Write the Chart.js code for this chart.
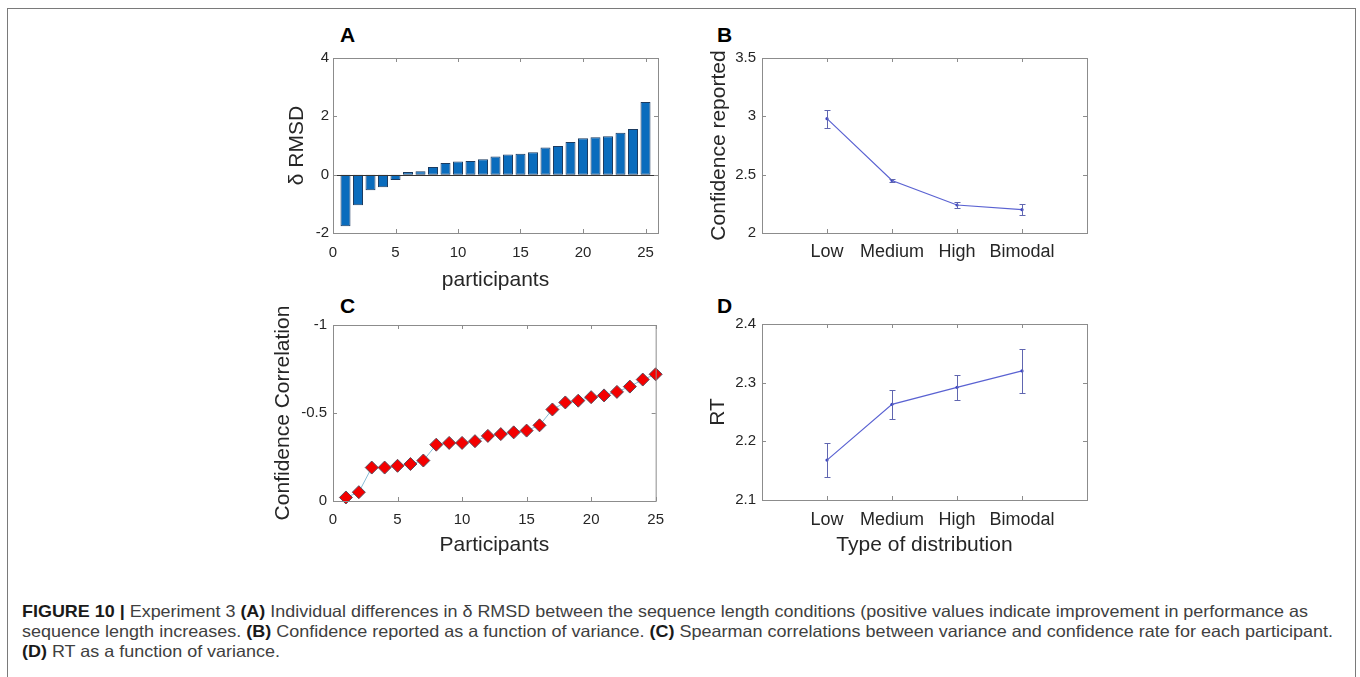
<!DOCTYPE html>
<html>
<head>
<meta charset="utf-8">
<script src="https://cdn.jsdelivr.net/npm/chart.js@4.4.1/dist/chart.umd.min.js"></script>
<style>
  body { margin: 0; background: #fff; width: 1360px; height: 677px; overflow: hidden; position: relative; }
  #frame { position: absolute; left: 7px; top: 8px; width: 1347px; height: 700px; border: 1px solid #7a7a7a; }
  canvas { position: absolute; }
  .tag { position: absolute; font: bold 21px 'Liberation Sans', Arial, sans-serif; line-height: 21px; color: #000; }
  .cap { position: absolute; left: 22px; white-space: nowrap; font-family: 'Liberation Sans Narrow', 'Liberation Sans', sans-serif;
         font-size: 16.5px; line-height: 16px; color: #404040; transform-origin: 0 0; }
  .cap b { color: #1a1a1a; }
</style>
</head>
<body>
<div id="frame"></div>

<div class="tag" style="left:340px; top:24px">A</div>
<div class="tag" style="left:717px; top:24px">B</div>
<div class="tag" style="left:340px; top:295px">C</div>
<div class="tag" style="left:717px; top:295px">D</div>

<canvas id="chartA" width="403" height="262" style="left:270px; top:40px"></canvas>
<canvas id="chartB" width="410" height="262" style="left:695px; top:40px"></canvas>
<canvas id="chartC" width="414" height="262" style="left:260px; top:300px"></canvas>
<canvas id="chartD" width="410" height="262" style="left:695px; top:300px"></canvas>

<div class="cap" id="cap1" style="top:603px"><b>FIGURE 10 |</b> Experiment 3 <b>(A)</b> Individual differences in δ RMSD between the sequence length conditions (positive values indicate improvement in performance as</div>
<div class="cap" id="cap2" style="top:623px">sequence length increases. <b>(B)</b> Confidence reported as a function of variance. <b>(C)</b> Spearman correlations between variance and confidence rate for each participant.</div>
<div class="cap" id="cap3" style="top:643px"><b>(D)</b> RT as a function of variance.</div>

<script>
// participants, sorted by effect size
const participants = [1, 2, 3, 4, 5, 6, 7, 8, 9, 10, 11, 12, 13, 14, 15, 16, 17, 18, 19, 20, 21, 22, 23, 24, 25];
const deltaRmsd = [-1.77, -1.05, -0.53, -0.43, -0.18, 0.09, 0.12, 0.26, 0.40, 0.45, 0.47, 0.53, 0.62,
                   0.69, 0.72, 0.77, 0.93, 0.98, 1.12, 1.25, 1.28, 1.32, 1.44, 1.57, 2.49];
const confCorr = [-0.02, -0.05, -0.19, -0.19, -0.20, -0.21, -0.23, -0.32, -0.33, -0.33, -0.34, -0.37, -0.38,
                  -0.39, -0.40, -0.43, -0.52, -0.56, -0.57, -0.59, -0.60, -0.62, -0.65, -0.69, -0.72];

// variance conditions
const distTypes = ['Low', 'Medium', 'High', 'Bimodal'];
const distPos = [1, 2, 3, 4];
const confMean = [2.98, 2.45, 2.24, 2.20];
const confErr = [0.077, 0.016, 0.027, 0.05];
const rtMean = [2.168, 2.263, 2.292, 2.320];
const rtErr = [0.029, 0.025, 0.021, 0.037];

// tick values
const participantTicks = [0, 5, 10, 15, 20, 25];
const rmsdTicks = [-2, 0, 2, 4];
const confTicks = [2, 2.5, 3, 3.5];
const corrTicks = [-1, -0.5, 0];
const rtTicks = [2.1, 2.2, 2.3, 2.4];

Chart.defaults.font.family = "'Liberation Sans', Arial, sans-serif";
Chart.defaults.color = '#262626';
Chart.defaults.animation = false;
Chart.defaults.plugins.legend.display = false;
Chart.defaults.plugins.tooltip.enabled = false;

const numFont = { size: 15 };
const catFont = { size: 18 };
const titleFont = { size: 21, lineHeight: 1.2 };

const setTicks = values => s => { s.ticks = values.map(v => ({ value: v })); };
const fixWidth = w => s => { s.width = w; };
const fixHeight = h => s => { s.height = h; };

// matlab style box: frame, inward ticks, optional zero line, error bars
function boxAxes(zeroLine) {
  return {
    id: 'boxAxes',
    afterDatasetsDraw(chart) {
      const { ctx, chartArea: a, scales: { x, y } } = chart;
      ctx.save();
      chart.data.datasets.forEach((ds, i) => {
        if (!ds.errors) return;
        const pts = chart.getDatasetMeta(i).data;
        ctx.strokeStyle = ds.errorColor;
        ctx.lineWidth = 1;
        ds.data.forEach((d, j) => {
          const px = Math.round(pts[j].x) + 0.5;
          const hi = Math.round(y.getPixelForValue(d.y + ds.errors[j])) + 0.5;
          const lo = Math.round(y.getPixelForValue(d.y - ds.errors[j])) + 0.5;
          ctx.beginPath();
          ctx.moveTo(px, hi); ctx.lineTo(px, lo);
          ctx.moveTo(px - 3, hi); ctx.lineTo(px + 3, hi);
          ctx.moveTo(px - 3, lo); ctx.lineTo(px + 3, lo);
          ctx.stroke();
        });
      });
      if (zeroLine) {
        const y0 = Math.round(y.getPixelForValue(0)) + 0.5;
        ctx.strokeStyle = '#333';
        ctx.beginPath();
        ctx.moveTo(a.left, y0); ctx.lineTo(a.right, y0);
        ctx.stroke();
      }
      ctx.strokeStyle = '#8c8c8c';
      ctx.lineWidth = 1;
      ctx.strokeRect(a.left + 0.5, a.top + 0.5, a.width, a.height);
      ctx.beginPath();
      x.ticks.forEach(t => {
        const px = Math.round(x.getPixelForValue(t.value)) + 0.5;
        ctx.moveTo(px, a.bottom); ctx.lineTo(px, a.bottom - 4);
        ctx.moveTo(px, a.top); ctx.lineTo(px, a.top + 4);
      });
      y.ticks.forEach(t => {
        const py = Math.round(y.getPixelForValue(t.value)) + 0.5;
        ctx.moveTo(a.left, py); ctx.lineTo(a.left + 4, py);
        ctx.moveTo(a.right, py); ctx.lineTo(a.right - 4, py);
      });
      ctx.stroke();
      ctx.restore();
    }
  };
}

const noGrid = { display: false, drawTicks: false };

function numAxis(min, max, ticks, size, sizeFn, tickPad, title, titlePad, reverse) {
  return {
    type: 'linear', min, max, reverse: !!reverse, offset: false,
    grid: noGrid, border: { display: false },
    afterBuildTicks: setTicks(ticks),
    afterFit: sizeFn(size),
    ticks: { font: numFont, padding: tickPad, callback: v => String(v) },
    title: title ? { display: true, text: title, font: titleFont, padding: titlePad } : { display: false }
  };
}

function catAxis(size, tickPad, title, titlePad) {
  return {
    type: 'linear', min: 0, max: 5, offset: false,
    grid: noGrid, border: { display: false },
    afterBuildTicks: setTicks(distPos),
    afterFit: fixHeight(size),
    ticks: { font: catFont, padding: tickPad, callback: v => distTypes[distPos.indexOf(v)] },
    title: title ? { display: true, text: title, font: titleFont, padding: titlePad } : { display: false }
  };
}

// A: delta RMSD per participant
new Chart(document.getElementById('chartA'), {
  type: 'bar',
  data: {
    datasets: [{
      data: participants.map((p, i) => ({ x: p, y: deltaRmsd[i] })),
      backgroundColor: '#0a6cbd',
      borderColor: '#1c3b60',
      borderWidth: 1,
      borderSkipped: false,
      barPercentage: 0.8,
      categoryPercentage: 1
    }]
  },
  options: {
    responsive: false,
    layout: { padding: { top: 18, right: 15 } },
    scales: {
      x: numAxis(0, 26, participantTicks, 69, fixHeight, 11, 'participants', { bottom: 9 }),
      y: numAxis(-2, 4, rmsdTicks, 63, fixWidth, 4, 'δ RMSD', { top: 15 })
    }
  },
  plugins: [boxAxes(true)]
});

// B: confidence by distribution type
new Chart(document.getElementById('chartB'), {
  type: 'line',
  data: {
    datasets: [{
      data: distPos.map((p, i) => ({ x: p, y: confMean[i] })),
      errors: confErr,
      errorColor: '#6066b0',
      borderColor: '#5a62d2',
      borderWidth: 1.2,
      pointRadius: 1.6,
      pointBackgroundColor: '#3a44c8',
      pointBorderWidth: 0
    }]
  },
  options: {
    responsive: false,
    layout: { padding: { top: 18, right: 18 } },
    scales: {
      x: catAxis(69, 8),
      y: numAxis(2, 3.5, confTicks, 67, fixWidth, 6, 'Confidence reported', { top: 12 })
    }
  },
  plugins: [boxAxes(false)]
});

// C: spearman correlation per participant
new Chart(document.getElementById('chartC'), {
  type: 'line',
  data: {
    datasets: [{
      data: participants.map((p, i) => ({ x: p, y: confCorr[i] })),
      borderColor: '#86bcd6',
      borderWidth: 1,
      pointStyle: 'rectRot',
      pointRadius: 6.5,
      pointBackgroundColor: '#f40000',
      pointBorderColor: '#5a4a5a',
      pointBorderWidth: 1,
      clip: false
    }]
  },
  options: {
    responsive: false,
    layout: { padding: { top: 25, right: 15 } },
    scales: {
      x: numAxis(0, 25, participantTicks, 61, fixHeight, 10, 'Participants', { bottom: 4 }),
      y: numAxis(-1, 0, corrTicks, 73, fixWidth, 6, 'Confidence Correlation', { top: 11 }, true)
    }
  },
  plugins: [boxAxes(false)]
});

// D: reaction time by distribution type
new Chart(document.getElementById('chartD'), {
  type: 'line',
  data: {
    datasets: [{
      data: distPos.map((p, i) => ({ x: p, y: rtMean[i] })),
      errors: rtErr,
      errorColor: '#6066b0',
      borderColor: '#5a62d2',
      borderWidth: 1.2,
      pointRadius: 1.6,
      pointBackgroundColor: '#3a44c8',
      pointBorderWidth: 0
    }]
  },
  options: {
    responsive: false,
    layout: { padding: { top: 24, right: 18 } },
    scales: {
      x: catAxis(62, 9, 'Type of distribution', { bottom: 4 }),
      y: numAxis(2.1, 2.4, rtTicks, 67, fixWidth, 6, 'RT', { top: 11 })
    }
  },
  plugins: [boxAxes(false)]
});

// stretch caption lines to the column width
function fitLine(id, target) {
  const el = document.getElementById(id);
  const s = target / el.getBoundingClientRect().width;
  el.style.transform = 'scaleX(' + s + ')';
  return s;
}
const s1 = fitLine('cap1', 1286);
const s2 = fitLine('cap2', 1311);
document.getElementById('cap3').style.transform = 'scaleX(' + ((s1 + s2) / 2) + ')';
</script>
</body>
</html>
